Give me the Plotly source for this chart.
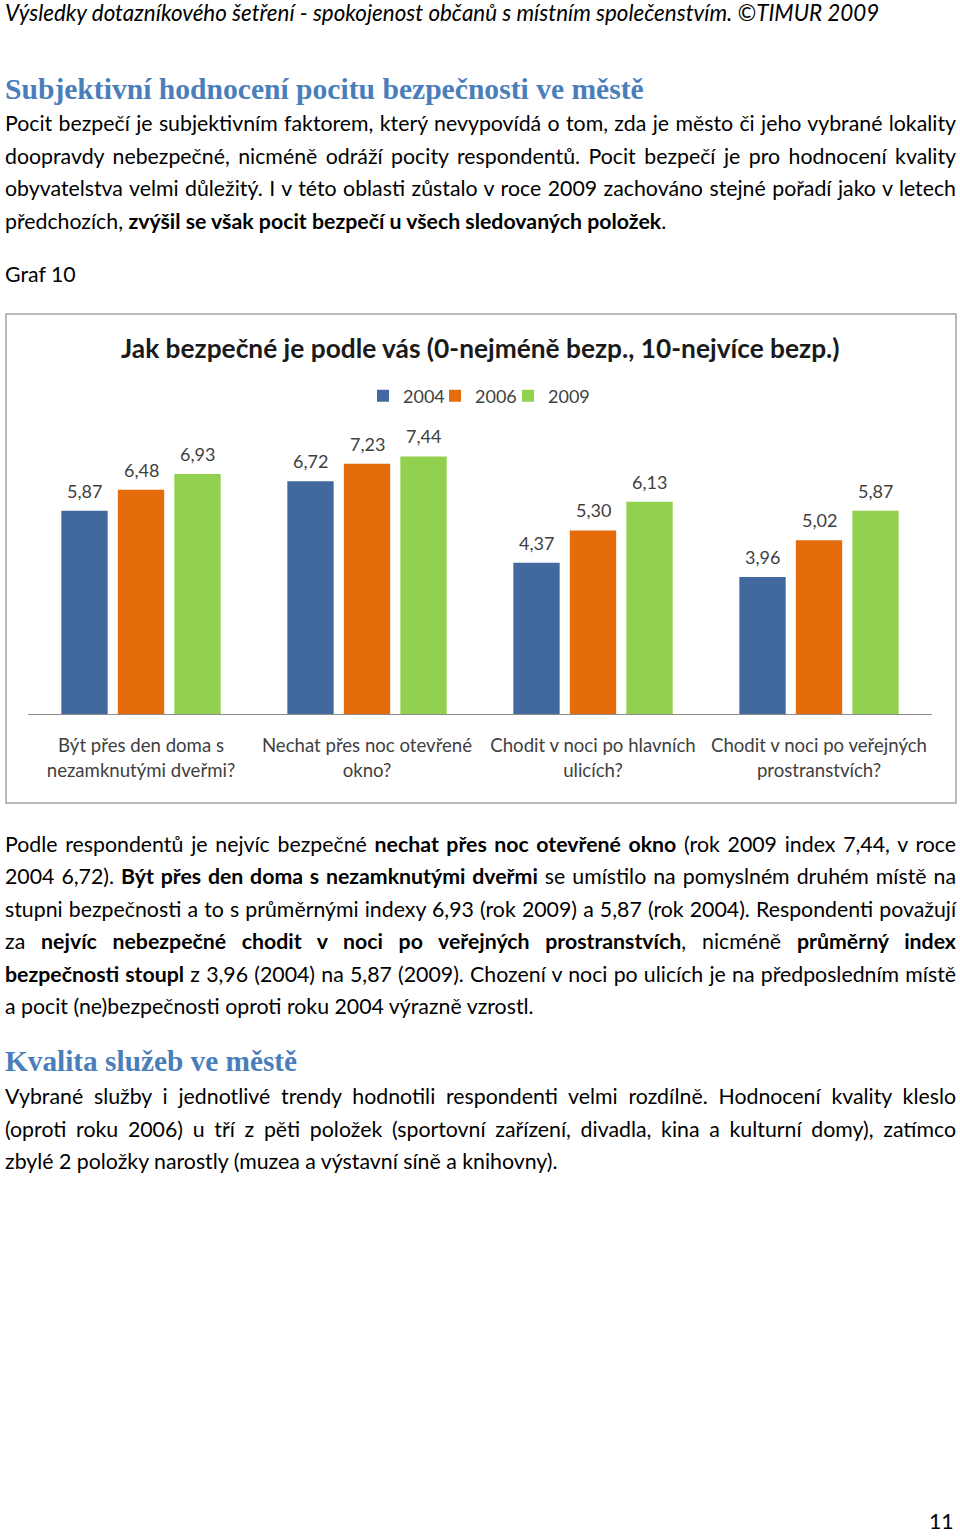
import plotly.graph_objects as go

W, H = 960, 1536

# ---------------- data ----------------
categories = ["c1", "c2", "c3", "c4"]
category_labels = [
    "Být přes den doma s<br>nezamknutými dveřmi?",
    "Nechat přes noc otevřené<br>okno?",
    "Chodit v noci po hlavních<br>ulicích?",
    "Chodit v noci po veřejných<br>prostranstvích?",
]
years = ["2004", "2006", "2009"]
values_2004 = [5.87, 6.72, 4.37, 3.96]
values_2006 = [6.48, 7.23, 5.30, 5.02]
values_2009 = [6.93, 7.44, 6.13, 5.87]
series_values = [values_2004, values_2006, values_2009]
colors = ["#41699d", "#e46c0a", "#92d050"]

chart_title = "Jak bezpečné je podle vás (0-nejméně bezp., 10-nejvíce bezp.)"

header = "Výsledky dotazníkového šetření - spokojenost občanů s místním společenstvím. ©TIMUR 2009"
heading1 = "Subjektivní hodnocení pocitu bezpečnosti ve městě"
para1 = [
    "Pocit bezpečí je subjektivním faktorem, který nevypovídá o tom, zda je město či jeho vybrané lokality",
    "doopravdy nebezpečné, nicméně odráží pocity respondentů. Pocit bezpečí je pro hodnocení kvality",
    "obyvatelstva velmi důležitý. I v této oblasti zůstalo v roce 2009 zachováno stejné pořadí jako v letech",
    "předchozích, <b>zvýšil se však pocit bezpečí u všech sledovaných položek</b>.",
]
graf_label = "Graf 10"
para2 = [
    "Podle respondentů je nejvíc bezpečné <b>nechat přes noc otevřené okno</b> (rok 2009 index 7,44, v roce",
    "2004 6,72). <b>Být přes den doma s nezamknutými dveřmi</b> se umístilo na pomyslném druhém místě na",
    "stupni bezpečnosti a to s průměrnými indexy 6,93 (rok 2009) a 5,87 (rok 2004). Respondenti považují",
    "za <b>nejvíc nebezpečné chodit v noci po veřejných prostranstvích</b>, nicméně <b>průměrný index</b>",
    "<b>bezpečnosti stoupl</b> z 3,96 (2004) na 5,87 (2009). Chození v noci po ulicích je na předposledním místě",
    "a pocit (ne)bezpečnosti oproti roku 2004 výrazně vzrostl.",
]
heading2 = "Kvalita služeb ve městě"
para3 = [
    "Vybrané služby i jednotlivé trendy hodnotili respondenti velmi rozdílně. Hodnocení kvality kleslo",
    "(oproti roku 2006) u tří z pěti položek (sportovní zařízení, divadla, kina a kulturní domy), zatímco",
    "zbylé 2 položky narostly (muzea a výstavní síně a knihovny).",
]
page_number = "11"

# ---------------- helpers ----------------
def px_x(x):
    return x / W

def px_y(y):
    return 1 - y / H

BODY = "Lato, 'Open Sans', sans-serif"
SERIF = "'Liberation Serif', 'DejaVu Serif', serif"
BODY_SIZE = 21.3

annotations = []

def add_line(y, text, size=BODY_SIZE, family=BODY, color="#000000", x=3, xanchor="left",
             justify=False):
    annotations.append(dict(
        xref="paper", yref="paper", x=px_x(x), y=px_y(y),
        xanchor=xanchor, yanchor="middle", showarrow=False,
        align="left" if xanchor == "left" else "center",
        text=text, font=dict(family=family, size=size, color=color),
        name="justify" if justify else "line",
    ))

add_line(12, "<i>" + header + "</i>", size=22.4)
add_line(89, "<b>" + heading1 + "</b>", size=29.6, family=SERIF, color="#4a7ebb")
for i, line in enumerate(para1):
    add_line(123 + i * 32.6, line, justify=(i < len(para1) - 1))
add_line(274, graf_label)
for i, line in enumerate(para2):
    add_line(844 + i * 32.4, line, justify=(i < len(para2) - 1))
add_line(1061, "<b>" + heading2 + "</b>", size=29.3, family=SERIF, color="#4a7ebb")
for i, line in enumerate(para3):
    add_line(1096 + i * 32.6, line, justify=(i < len(para3) - 1))
add_line(1521, page_number, x=956, xanchor="right")

# chart title
add_line(348, "<b>" + chart_title + "</b>", size=26.3, color="#1a1a1a", x=480, xanchor="center")

# data labels above bars
slot_px = 56.5
for si, vals in enumerate(series_values):
    for c, v in zip(categories, vals):
        annotations.append(dict(
            xref="x", yref="y", x=c, y=v, xshift=(si - 1) * slot_px, yshift=20,
            showarrow=False, yanchor="middle",
            text=f"{v:.2f}".replace(".", ","),
            font=dict(family=BODY, size=18, color="#404040"),
        ))

# ---------------- figure ----------------
legend_ids = ["legend", "legend2", "legend3"]
legend_x_px = [363, 435, 508]

fig = go.Figure()
for name, vals, col, lid in zip(years, series_values, colors, legend_ids):
    fig.add_trace(go.Bar(
        x=categories, y=vals, name=name, legend=lid,
        marker=dict(color=col, line=dict(width=0)),
    ))

legend_layouts = {}
for lid, lx in zip(legend_ids, legend_x_px):
    legend_layouts[lid] = dict(
        orientation="h", x=px_x(lx), xanchor="left", y=px_y(396), yanchor="middle",
        font=dict(family=BODY, size=18, color="#404040"),
        bgcolor="rgba(0,0,0,0)", borderwidth=0,
    )

fig.update_layout(
    width=W, height=H,
    margin=dict(l=0, r=0, t=0, b=0),
    paper_bgcolor="white", plot_bgcolor="white",
    barmode="group", bargap=0.25, bargroupgap=0.18,
    separators=", ",
    showlegend=True,
    xaxis=dict(
        domain=[px_x(28), px_x(932)],
        tickmode="array", tickvals=categories, ticktext=category_labels,
        showline=True, linecolor="#8c8c8c", linewidth=1,
        ticks="outside", ticklen=15, tickcolor="rgba(0,0,0,0)",
        tickfont=dict(family=BODY, size=18.6, color="#404040"),
        showgrid=False, zeroline=False, fixedrange=True,
    ),
    yaxis=dict(
        domain=[px_y(714), px_y(437)], range=[0, 8],
        visible=False, fixedrange=True,
    ),
    annotations=annotations,
    shapes=[dict(
        type="rect", xref="paper", yref="paper",
        x0=px_x(6), x1=px_x(956), y0=px_y(803), y1=px_y(314),
        line=dict(color="#a3a3a3", width=1.5), fillcolor="rgba(0,0,0,0)", layer="below",
    )],
    **legend_layouts,
)

post_js = """
document.body.style.margin='0';
document.body.style.overflow='hidden';
var gd = document.getElementById('{plot_id}');
function justifyLines(){
  var groups = gd.querySelectorAll('g.annotation');
  groups.forEach(function(g){
    var idx = +g.getAttribute('data-index');
    var ann = gd.layout.annotations[idx];
    if(!ann || ann.name !== 'justify') return;
    var t = g.querySelector('text.annotation-text');
    if(!t) return;
    var txt = t.textContent;
    var n = (txt.match(/ /g) || []).length;
    if(!n) return;
    var target = 951;
    var w = t.getComputedTextLength();
    var ws = (target - w) / n;
    t.style.wordSpacing = ws + 'px';
  });
}
justifyLines();
"""

fig.write_html("out.html", post_script=post_js, config={"displayModeBar": False})
